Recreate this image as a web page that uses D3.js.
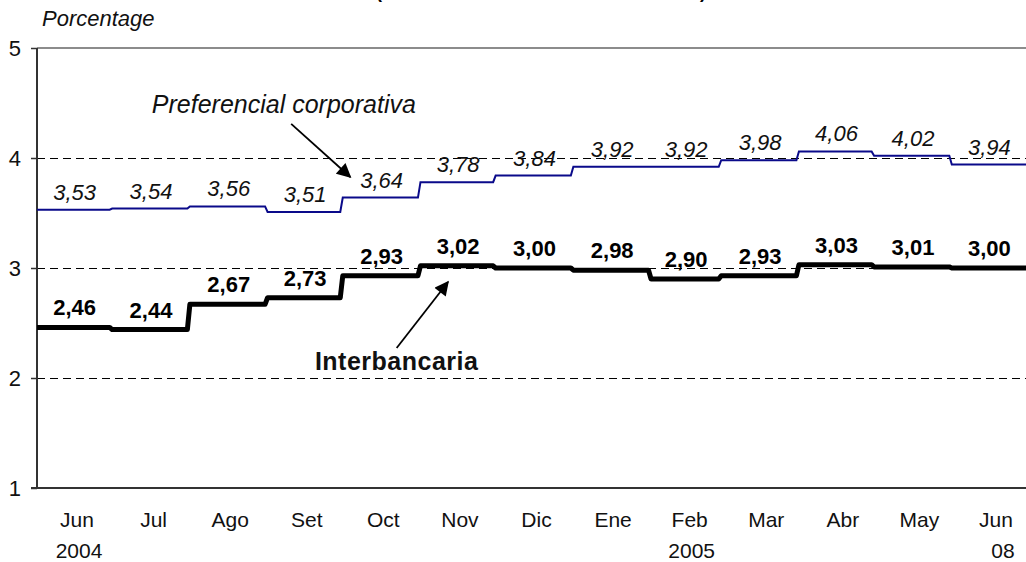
<!DOCTYPE html>
<html>
<head>
<meta charset="utf-8">
<script src="https://cdn.jsdelivr.net/npm/d3@7"></script>
<style>
  html, body { margin: 0; padding: 0; background: #fff; }
  svg { display: block; font-family: "Liberation Sans", Arial, sans-serif; }
</style>
</head>
<body>
<svg id="chart" width="1026" height="562"></svg>
<script>
// ---- data ----
const monthLabels = ["Jun","Jul","Ago","Set","Oct","Nov","Dic","Ene","Feb","Mar","Abr","May","Jun"];
const yearLabels  = ["2004","","","","","","","","2005","","","","08"];
const monthStarts = ["2004-06-01","2004-07-01","2004-08-01","2004-09-01","2004-10-01","2004-11-01",
                     "2004-12-01","2005-01-01","2005-02-01","2005-03-01","2005-04-01","2005-05-01","2005-06-01"];
const periodEnd = "2005-07-01";
const preferencial  = [3.53,3.54,3.56,3.51,3.64,3.78,3.84,3.92,3.92,3.98,4.06,4.02,3.94];
const interbancaria = [2.46,2.44,2.67,2.73,2.93,3.02,3.00,2.98,2.90,2.93,3.03,3.01,3.00];
const yTicks = [1,2,3,4,5];
const gridValues = [2,3,4];
const yAxisTitle = "Porcentage";
const chartTitle = "(Tasas de interés en moneda nacional)";
const prefName = "Preferencial corporativa";
const interName = "Interbancaria";

// ---- setup ----
const parse = d3.timeParse("%Y-%m-%d");
const starts = monthStarts.map(parse);
const ends = starts.slice(1).concat([parse(periodEnd)]);
const svg = d3.select("#chart");
const W = 1026, H = 562;
const m = {left: 37, top: 48, right: 0, bottom: 74};

const x = d3.scaleTime().domain([starts[0], parse(periodEnd)]).range([m.left, W + 1]);
const y = d3.scaleLinear().domain([1, 5]).range([H - m.bottom, m.top]);
// category positions used for the month labels (evenly spaced, as in the source)
const xCat = d3.scalePoint().domain(d3.range(monthLabels.length)).range([77, 996]);

const loc = d3.formatLocale({decimal: ",", thousands: ".", grouping: [3], currency: ["", ""]});
const fmt = loc.format(".2f");

// title (mostly above the visible area, as in the source image)
svg.append("text")
  .attr("x", (x.range()[0] + x.range()[1]) / 2 + 9).attr("y", -2)
  .attr("text-anchor", "middle").attr("font-weight", "bold").attr("font-size", 18)
  .text(chartTitle);

// y axis title
svg.append("text")
  .attr("x", 42).attr("y", 26)
  .attr("font-style", "italic").attr("font-size", 22).attr("fill", "#111")
  .text(yAxisTitle);

// top border
svg.append("line")
  .attr("x1", m.left).attr("x2", W).attr("y1", y(5)).attr("y2", y(5))
  .attr("stroke", "#8c8c8c").attr("stroke-width", 2);

// grid lines
svg.append("g").selectAll("line").data(gridValues).join("line")
  .attr("x1", m.left).attr("x2", W)
  .attr("y1", d => y(d) + 0.5).attr("y2", d => y(d) + 0.5)
  .attr("stroke", "#000").attr("stroke-width", 1).attr("stroke-dasharray", "8,5")
  .attr("shape-rendering", "crispEdges");

// y axis
const yAxis = svg.append("g").attr("transform", `translate(${m.left},0)`)
  .call(d3.axisLeft(y).tickValues(yTicks).tickSize(6).tickPadding(10).tickFormat(d3.format("d")));
yAxis.select(".domain").remove();
yAxis.selectAll(".tick line").attr("stroke", "#333").attr("stroke-width", 1.5);
yAxis.selectAll(".tick text").attr("font-size", 22).attr("fill", "#111")
  .attr("font-family", "\"Liberation Sans\", Arial, sans-serif");

// axis lines
svg.append("line").attr("x1", m.left).attr("x2", m.left).attr("y1", y(5)).attr("y2", y(1))
  .attr("stroke", "#333").attr("stroke-width", 2);
svg.append("line").attr("x1", m.left - 6).attr("x2", W).attr("y1", y(1)).attr("y2", y(1))
  .attr("stroke", "#333").attr("stroke-width", 2);

// x labels
const xl = svg.append("g");
xl.selectAll("text.month").data(monthLabels).join("text")
  .attr("class", "month")
  .attr("x", (d, i) => xCat(i)).attr("y", 527)
  .attr("text-anchor", "middle").attr("font-size", 21).attr("fill", "#111")
  .text(d => d);
xl.selectAll("text.year").data(yearLabels).join("text")
  .attr("class", "year")
  .attr("x", (d, i) => xCat(i) + (d.length === 2 ? 7 : 2)).attr("y", 558)
  .attr("text-anchor", "middle").attr("font-size", 21).attr("fill", "#111")
  .text(d => d);

// step series
function stepPoints(vals) {
  const pts = [];
  vals.forEach((v, i) => {
    pts.push([starts[i], v]);
    const e = (i === vals.length - 1) ? ends[i] : d3.timeDay.offset(ends[i], -1);
    pts.push([e, v]);
  });
  return pts;
}
const line = d3.line().x(d => x(d[0])).y(d => y(d[1]));

svg.append("path").datum(stepPoints(preferencial))
  .attr("d", line).attr("fill", "none").attr("stroke", "#0a0a8a").attr("stroke-width", 2);
svg.append("path").datum(stepPoints(interbancaria))
  .attr("d", line).attr("fill", "none").attr("stroke", "#000").attr("stroke-width", 5)
  .attr("stroke-linejoin", "round");

const mid = i => new Date((starts[i].getTime() + ends[i].getTime()) / 2);

// value labels
svg.append("g").selectAll("text").data(preferencial).join("text")
  .attr("x", (d, i) => x(mid(i))).attr("y", d => y(d) - 10)
  .attr("text-anchor", "middle").attr("font-style", "italic").attr("font-size", 22).attr("fill", "#111")
  .text(d => fmt(d));
svg.append("g").selectAll("text").data(interbancaria).join("text")
  .attr("x", (d, i) => x(mid(i))).attr("y", d => y(d) - 12)
  .attr("text-anchor", "middle").attr("font-weight", "bold").attr("font-size", 22).attr("fill", "#000")
  .text(d => fmt(d));

// annotations (positions in data space)
const defs = svg.append("defs");
defs.append("marker").attr("id", "ah").attr("viewBox", "0 0 10 10")
  .attr("refX", 9).attr("refY", 5).attr("markerWidth", 9).attr("markerHeight", 8)
  .attr("markerUnits", "strokeWidth").attr("orient", "auto")
  .append("path").attr("d", "M0,0 L10,5 L0,10 z").attr("fill", "#000");

const ann = [
  {from: [new Date(2004, 8, 10, 10), 4.31], to: [new Date(2004, 9, 4, 0), 3.827]},
  {from: [new Date(2004, 9, 22, 12), 2.273], to: [new Date(2004, 10, 12, 0), 2.873]}
];
svg.append("g").selectAll("line").data(ann).join("line")
  .attr("x1", d => x(d.from[0])).attr("y1", d => y(d.from[1]))
  .attr("x2", d => x(d.to[0])).attr("y2", d => y(d.to[1]))
  .attr("stroke", "#000").attr("stroke-width", 1.8).attr("marker-end", "url(#ah)");

svg.append("text")
  .attr("x", x(new Date(2004, 8, 7, 12))).attr("y", y(4.41))
  .attr("text-anchor", "middle").attr("font-style", "italic").attr("font-size", 25).attr("fill", "#111")
  .text(prefName);
svg.append("text")
  .attr("x", x(new Date(2004, 9, 22, 12))).attr("y", y(2.073))
  .attr("text-anchor", "middle").attr("font-weight", "bold").attr("font-size", 25)
  .attr("letter-spacing", 0.5).attr("fill", "#111")
  .text(interName);
</script>
</body>
</html>
